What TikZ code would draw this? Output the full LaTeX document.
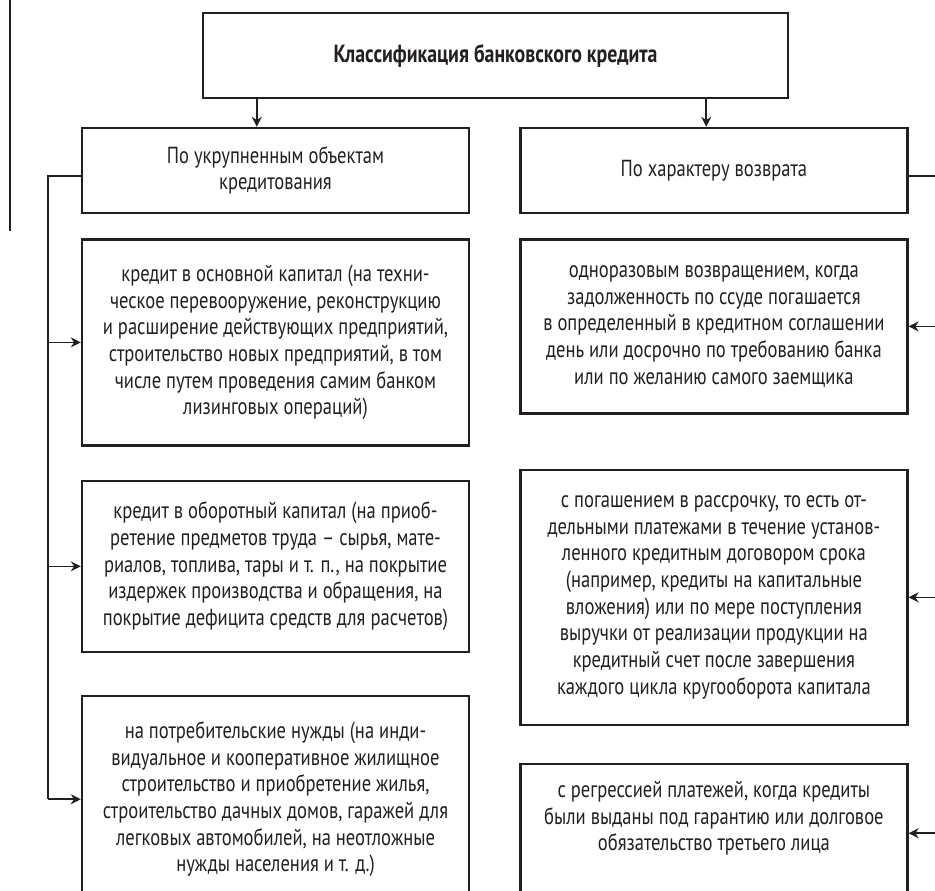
\documentclass[tikz,border=0pt]{standalone}
\usepackage{fontspec}
\setmainfont{PT Sans}[FakeStretch=0.8]
\usetikzlibrary{arrows.meta,positioning}
\definecolor{ink}{RGB}{35,31,32}

\begin{document}
\begin{tikzpicture}[x=0.5pt, y=-0.5pt,
        box/.style={rectangle, draw=ink, line width=1.2pt, minimum width=193.5pt, align=center, inner sep=0pt, text=ink, font=\fontsize{11.6}{13.35}\selectfont},
        line/.style={draw=ink, line width=0.8pt},
        arrow/.style={line, -{Stealth[length=5pt, width=5pt]}}
    ]
        % Frame of the page
        \path[use as bounding box] (0,0) rectangle (935,890);
        \clip (0,0) rectangle (935,890);
        \draw[ink, line width=1.4pt] (10,0) -- (10,231);

        % Blocks
        \node[box, minimum width=292.5pt, minimum height=42.5pt, font=\fontsize{12.4}{14}\selectfont\bfseries] (root) at (495.5,55.5) {Классификация банковского кредита};
        \node[box, minimum height=42.5pt] (objects) at (275.5,170.5) {По укрупненным объектам\\кредитования};
        \node[box, minimum height=42.5pt, right=24.5pt of objects] (repay) {По характеру возврата};

        \node[box, minimum height=103pt, below=12pt of objects] (fixed) {кредит в основной капитал (на техни-\\ческое перевооружение, реконструкцию\\и расширение действующих предприятий,\\строительство новых предприятий, в том\\числе путем проведения самим банком\\лизинговых операций)};
        \node[box, minimum height=85.5pt, below=16.5pt of fixed] (working) {кредит в оборотный капитал (на приоб-\\ретение предметов труда – сырья, мате-\\риалов, топлива, тары и т. п., на покрытие\\издержек производства и обращения, на\\покрытие дефицита средств для расчетов)};
        \node[box, minimum height=103pt, below=21pt of working] (consumer) {на потребительские нужды (на инди-\\видуальное и кооперативное жилищное\\строительство и приобретение жилья,\\строительство дачных домов, гаражей для\\легковых автомобилей, на неотложные\\нужды населения и т. д.)};

        \node[box, minimum height=87pt, below=12pt of repay] (single) {одноразовым возвращением, когда\\задолженность по ссуде погашается\\в определенный в кредитном соглашении\\день или досрочно по требованию банка\\или по желанию самого заемщика};
        \node[box, minimum height=127.5pt, below=27pt of single] (install) {с погашением в рассрочку, то есть от-\\дельными платежами в течение установ-\\ленного кредитным договором срока\\(например, кредиты на капитальные\\вложения) или по мере поступления\\выручки от реализации продукции на\\кредитный счет после завершения\\каждого цикла кругооборота капитала};
        \node[box, minimum height=69pt, below=18.5pt of install] (regress) {с регрессией платежей, когда кредиты\\были выданы под гарантию или долговое\\обязательство третьего лица\\\strut};

        % Trunks
        \coordinate (lsplit) at ([xshift=27.5pt]root.south west);
        \coordinate (rsplit) at ([xshift=-41.5pt]root.south east);
        \coordinate (ltrunk) at (48,0);
        \coordinate (rtrunk) at (950,0);

        % Arrows
        \draw[arrow] (lsplit) -- (lsplit |- objects.north);
        \draw[arrow] (rsplit) -- (rsplit |- repay.north);

        \draw[line] ([yshift=-2.6pt]objects.west) -| (ltrunk |- consumer.west);
        \draw[arrow] (ltrunk |- fixed.west) -- (fixed.west);
        \draw[arrow] (ltrunk |- working.west) -- (working.west);
        \draw[arrow] (ltrunk |- consumer.west) -- (consumer.west);

        \draw[line] ([yshift=-2.6pt]repay.east) -| (rtrunk |- regress.east);
        \draw[arrow] (rtrunk |- single.east) -- (single.east);
        \draw[arrow] (rtrunk |- install.east) -- (install.east);
        \draw[arrow] (rtrunk |- regress.east) -- (regress.east);
    \end{tikzpicture}
\end{document}
